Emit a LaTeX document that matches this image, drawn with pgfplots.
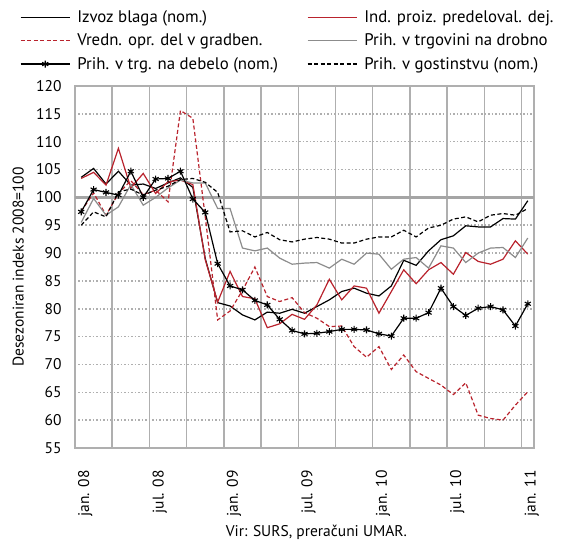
\documentclass[border=0pt]{standalone}
\usepackage{fontspec}
\setmainfont{PT Sans}
\usepackage{pgfplots}
\usepackage{pgfplotstable}
\pgfplotsset{compat=1.18}
\definecolor{myred}{RGB}{185,35,45}
\definecolor{mygray}{RGB}{140,140,140}
\definecolor{gridc}{RGB}{175,175,175}
\definecolor{hundred}{RGB}{165,165,165}

\pgfplotstableread{
i izvoz ind vredn drob debelo gost
0 103.6 103.4 97.5 95.5 97.4 95.0
1 105.2 104.5 100.8 99.8 101.4 97.4
2 102.4 102.2 96.8 96.8 100.9 96.5
3 104.7 108.8 100.7 98.3 100.4 101.0
4 102.2 101.7 103.0 102.3 104.7 101.5
5 102.4 104.3 100.5 98.6 100.0 100.4
6 101.6 100.7 101.3 100.0 103.3 101.3
7 102.6 102.8 99.2 101.7 103.4 102.0
8 103.5 103.1 115.6 103.1 104.7 103.2
9 101.8 102.3 114.2 102.6 99.7 103.4
10 89.0 88.8 96.5 102.6 97.3 102.7
11 81.1 81.2 78.0 98.0 88.1 100.9
12 80.5 86.7 79.6 98.0 84.1 93.8
13 78.9 82.2 83.3 90.9 83.4 94.0
14 78.0 81.8 87.5 90.4 81.5 92.9
15 79.4 76.6 82.2 90.9 80.7 93.7
16 79.2 77.3 81.3 89.1 78.1 92.4
17 79.9 79.0 82.0 88.0 76.1 92.0
18 79.2 78.1 79.3 88.2 75.5 92.5
19 80.4 80.7 78.3 88.3 75.6 92.8
20 81.6 85.3 76.8 87.3 75.9 92.5
21 83.1 81.6 76.9 88.9 76.3 91.8
22 83.7 84.1 73.2 88.0 76.3 91.8
23 82.8 83.7 71.3 90.0 76.2 92.5
24 82.3 79.2 73.2 89.8 75.5 92.9
25 84.1 83.1 69.1 87.1 75.1 92.9
26 88.7 87.0 71.7 88.9 78.3 94.1
27 87.8 84.5 68.7 89.2 78.3 92.9
28 90.4 87.0 67.5 87.3 79.3 94.5
29 92.4 88.3 66.3 91.3 83.7 95.0
30 93.1 86.2 64.6 90.9 80.4 96.1
31 94.9 90.1 66.7 88.3 78.8 96.5
32 94.7 88.5 60.9 90.0 80.1 95.6
33 94.7 88.0 60.3 90.9 80.4 96.8
34 96.2 88.9 60.0 91.0 79.8 97.1
35 96.1 92.2 62.7 89.2 76.9 96.8
36 99.4 89.8 65.1 92.7 80.9 98.0
}\datatable

\begin{document}
\begin{tikzpicture}[font=\fontsize{15.5}{18}\selectfont]
\path[use as bounding box] (-75pt,-95pt) rectangle (486pt,448pt);
\begin{axis}[
  scale only axis,
  width=459pt, height=362pt,
  xmin=-0.5, xmax=36.5, ymin=55, ymax=120,
  ytick={55,60,...,120},
  /pgf/number format/assume math mode=true,
  xtick={0,6,...,36},
  xticklabels={jan. 08, jul. 08, jan. 09, jul. 09, jan. 10, jul. 10, jan. 11},
  extra x ticks={2.5,5.5,...,35.5},
  extra x tick labels={},
  extra x tick style={xmajorgrids=true, major grid style={solid, gridc, line width=1.5pt}},
  xmajorgrids=false, ymajorgrids=true,
  major grid style={gridc, line width=1.5pt, dash pattern=on 1.5pt off 2pt},
  extra y ticks={100}, extra y tick labels={},
  extra y tick style={ymajorgrids=true, major grid style={solid, hundred, line width=2.4pt}},
  axis line style={gridc, line width=1.5pt},
  major tick length=0pt, minor tick length=0pt,
  yticklabel style={anchor=east},
  yticklabel shift=10pt,
  xticklabel style={xshift=4pt, rotate=90, anchor=east},
  xticklabel shift=19pt,
  ylabel={Desezoniran indeks 2008=100},
  ylabel style={at={(axis description cs:-0.124,0.5)}, anchor=center},
  xlabel={Vir: SURS, preračuni UMAR.},
  xlabel style={at={(axis description cs:0.526,-0.233)}, anchor=center},
  legend columns=2,
  legend cell align=left,
  legend style={draw=none, fill=none, at={(axis description cs:-0.12,1.212)},
    anchor=north west, inner sep=0pt, row sep=8pt,
    font=\fontsize{16.8}{19}\selectfont,
    /tikz/every even column/.append style={column sep=22pt},
    nodes={inner xsep=7pt, inner ysep=1pt}},
  legend image code/.code={\draw[mark repeat=2,mark phase=2,#1] plot coordinates {(0pt,0pt) (24.5pt,0pt) (49pt,0pt)};},
  every axis plot/.append style={line width=1.2pt},
]
\addplot[black, mark=none] table[x=i,y=izvoz] {\datatable};
\addlegendentry{Izvoz blaga (nom.)}
\addplot[myred, mark=none] table[x=i,y=ind] {\datatable};
\addlegendentry{Ind. proiz. predeloval. dej.}
\addplot[myred, mark=none, dash pattern=on 4pt off 2.5pt] table[x=i,y=vredn] {\datatable};
\addlegendentry{Vredn. opr. del v gradben.}
\addplot[mygray, mark=none] table[x=i,y=drob] {\datatable};
\addlegendentry{Prih. v trgovini na drobno}
\addplot[black, mark=asterisk, mark size=3.5pt, mark options={solid, line width=1.1pt}] table[x=i,y=debelo] {\datatable};
\addlegendentry{Prih. v trg. na debelo (nom.)}
\addplot[black, mark=none, dash pattern=on 4pt off 2.5pt] table[x=i,y=gost] {\datatable};
\addlegendentry{Prih. v gostinstvu (nom.)}
\end{axis}
\end{tikzpicture}
\end{document}
